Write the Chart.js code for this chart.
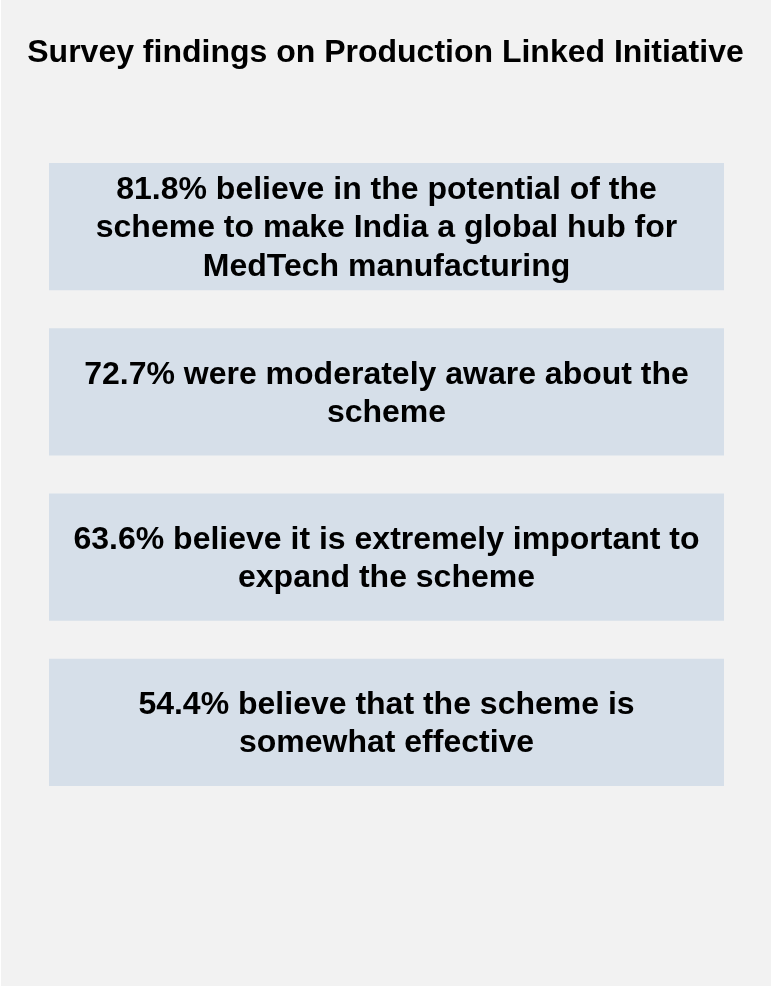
<!DOCTYPE html>
<html>
<head>
<meta charset="utf-8">
<title>Survey findings on Production Linked Initiative</title>
<script src="https://cdn.jsdelivr.net/npm/chart.js@4/dist/chart.umd.min.js"></script>
<style>
  html, body { margin: 0; padding: 0; background: #ffffff; }
  canvas { display: block; }
</style>
</head>
<body>
<canvas id="grafico" width="771" height="987"></canvas>
<script>
// Dados do gráfico
const titulo = "Survey findings on Production Linked Initiative";
const categorias = ["Potencial", "Conhecimento", "Expansão", "Eficácia"];
const percentuais = [81.8, 72.7, 63.6, 54.4];
// cada caixa ocupa a largura inteira (0 a 100)
const larguraCaixa = [100, 100, 100, 100];
// texto depois do percentual, já quebrado em linhas como na figura
const frases = [
    ["believe in the potential of the", "scheme to make India a global hub for", "MedTech manufacturing"],
    ["were moderately aware about the", "scheme"],
    ["believe it is extremely important to", "expand the scheme"],
    ["believe that the scheme is", "somewhat effective"]
];

const corFundo = "#f2f2f2";
const corCaixa = "#d6dfe9";
const fonteTitulo = "bold 32px 'Liberation Sans', Arial, sans-serif";
const fonteTexto = "bold 32px 'Liberation Sans', Arial, sans-serif";

// Fundo cinza claro (borda branca fina à esquerda e embaixo) + título
const pluginFundo = {
    id: 'fundo',
    beforeDraw(chart) {
        const ctx = chart.ctx;
        ctx.save();
        ctx.fillStyle = "#ffffff";
        ctx.fillRect(0, 0, chart.width, chart.height);
        ctx.fillStyle = corFundo;
        ctx.fillRect(1, 0, chart.width - 1, chart.height - 1);
        // título centralizado na largura toda do canvas
        ctx.font = fonteTitulo;
        ctx.fillStyle = "#000000";
        ctx.textAlign = "center";
        ctx.textBaseline = "middle";
        ctx.fillText(titulo, chart.width / 2, 53);
        ctx.restore();
    }
};

// Escreve o texto centralizado dentro de cada caixa
const pluginTextos = {
    id: 'textos',
    afterDatasetsDraw(chart) {
        const ctx = chart.ctx;
        const meta = chart.getDatasetMeta(0);
        ctx.save();
        ctx.font = fonteTexto;
        ctx.fillStyle = "#000000";
        ctx.textAlign = "center";
        ctx.textBaseline = "middle";
        meta.data.forEach((barra, i) => {
            const { x, base, y } = barra.getProps(['x', 'base', 'y'], true);
            const linhas = frases[i].slice();
            linhas[0] = percentuais[i].toFixed(1) + "% " + linhas[0];
            const entre = 38.4;
            const topo = y - (linhas.length - 1) * entre / 2;
            linhas.forEach((linha, j) => ctx.fillText(linha, (x + base) / 2, topo + j * entre + 2));
        });
        ctx.restore();
    }
};

new Chart(document.getElementById('grafico'), {
    type: 'bar',
    data: {
        labels: categorias,
        datasets: [{
            data: larguraCaixa,
            backgroundColor: corCaixa,
            borderWidth: 0,
            categoryPercentage: 1,
            barPercentage: 0.77
        }]
    },
    options: {
        indexAxis: 'y',
        responsive: false,
        animation: false,
        events: [],
        layout: { padding: { top: 144, bottom: 182, left: 49, right: 47 } },
        scales: {
            x: { display: false, min: 0, max: 100 },
            y: { display: false }
        },
        plugins: {
            legend: { display: false },
            tooltip: { enabled: false },
            title: { display: false }
        }
    },
    plugins: [pluginFundo, pluginTextos]
});
</script>
</body>
</html>
